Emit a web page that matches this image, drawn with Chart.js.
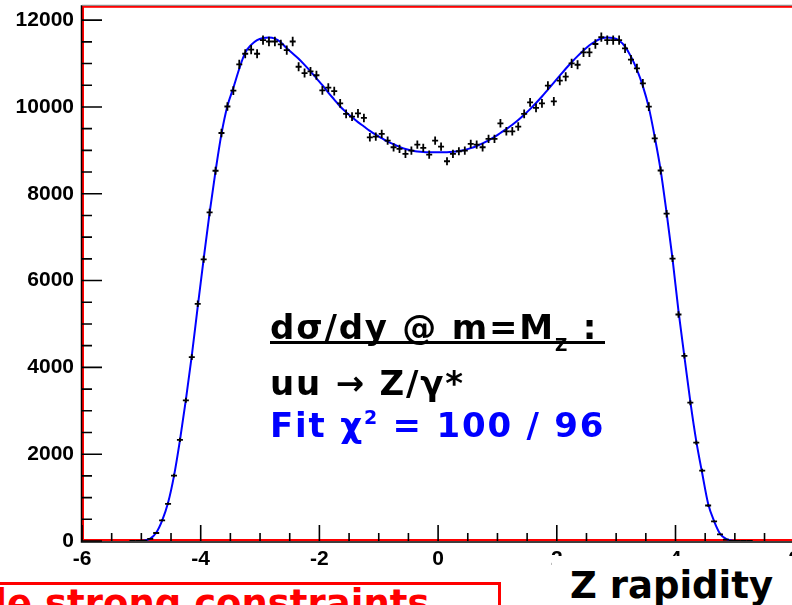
<!DOCTYPE html>
<html><head><meta charset="utf-8">
<script src="https://cdn.jsdelivr.net/npm/chart.js@4"></script>
<style>
html,body{margin:0;padding:0;background:#fff;overflow:hidden;width:792px;height:605px}
#wrap{position:absolute;left:0;top:0;width:800px;height:605px}
.t{position:absolute;white-space:nowrap;font-family:'DejaVu Sans';font-weight:bold;line-height:1}
</style></head><body>
<div id="wrap"><canvas id="c" width="800" height="605"></canvas></div>
<div class="t" style="left:270px;top:310px;font-size:34px;color:#000;letter-spacing:1.8px">dσ/dy @ m=M<span style="font-size:17px;position:relative;top:12px">Z</span> :</div>
<div style="position:absolute;left:270px;top:341px;width:335px;height:3px;background:#000"></div>
<div class="t" style="left:270px;top:366px;font-size:34px;color:#000;letter-spacing:1.8px">uu → Z/γ*</div>
<div class="t" style="left:270px;top:408px;font-size:34px;color:#0000ff;letter-spacing:1.8px">Fit χ<span style="font-size:19px;position:relative;top:-13px">2</span> = 100 / 96</div>
<div style="position:absolute;left:552px;top:556px;width:260px;height:60px;background:#fff"></div>
<div class="t" style="left:570px;top:567px;font-size:37px;color:#000">Z rapidity</div>
<div style="position:absolute;left:-20px;top:582px;width:515px;height:60px;border:3px solid #ff0000;background:#fff"></div>
<div class="t" style="left:-127px;top:585px;font-size:37px;color:#ff0000">Provide strong constraints</div>
<script>
// ---- data ----
const binWidth = 0.1;
const binCenters = [-5.15,-5.05,-4.95,-4.85,-4.75,-4.65,-4.55,-4.45,-4.35,-4.25,-4.15,-4.05,-3.95,-3.85,-3.75,-3.65,-3.55,-3.45,-3.35,-3.25,-3.15,-3.05,-2.95,-2.85,-2.75,-2.65,-2.55,-2.45,-2.35,-2.25,-2.15,-2.05,-1.95,-1.85,-1.75,-1.65,-1.55,-1.45,-1.35,-1.25,-1.15,-1.05,-0.95,-0.85,-0.75,-0.65,-0.55,-0.45,-0.35,-0.25,-0.15,-0.05,0.05,0.15,0.25,0.35,0.45,0.55,0.65,0.75,0.85,0.95,1.05,1.15,1.25,1.35,1.45,1.55,1.65,1.75,1.85,1.95,2.05,2.15,2.25,2.35,2.45,2.55,2.65,2.75,2.85,2.95,3.05,3.15,3.25,3.35,3.45,3.55,3.65,3.75,3.85,3.95,4.05,4.15,4.25,4.35,4.45,4.55,4.65,4.75,4.85,4.95,5.05,5.15,5.25];
const counts = [0,0,8,50,184,474,857,1508,2328,3241,4237,5464,6490,7570,8530,9400,10010,10375,10980,11225,11320,11225,11540,11508,11508,11440,11310,11508,10926,10780,10818,10730,10380,10445,10365,10083,9839,9777,9853,9747,9301,9317,9379,9225,9071,9034,8920,8995,9133,9057,8903,9225,9087,8749,8920,8979,8995,9149,9133,9071,9264,9264,9623,9439,9439,9547,9839,10106,9977,10083,10490,10129,10605,10697,11003,10972,11255,11255,11450,11610,11540,11540,11540,11350,11090,10890,10543,10007,9275,8536,7540,6506,5218,4267,3186,2267,1623,818,451,152,30,5,0,0,0];
const fitX = [-5.0,-4.95,-4.85,-4.75,-4.65,-4.55,-4.45,-4.35,-4.25,-4.15,-4.05,-3.95,-3.85,-3.75,-3.65,-3.55,-3.45,-3.35,-3.25,-3.15,-3.05,-2.95,-2.85,-2.75,-2.65,-2.55,-2.45,-2.35,-2.25,-2.15,-2.05,-1.95,-1.85,-1.75,-1.65,-1.55,-1.45,-1.35,-1.25,-1.15,-1.05,-0.95,-0.85,-0.75,-0.65,-0.55,-0.45,-0.35,-0.25,-0.15,-0.05,0.05,0.15,0.25,0.35,0.45,0.55,0.65,0.75,0.85,0.95,1.05,1.15,1.25,1.35,1.45,1.55,1.65,1.75,1.85,1.95,2.05,2.15,2.25,2.35,2.45,2.55,2.65,2.75,2.85,2.95,3.05,3.15,3.25,3.35,3.45,3.55,3.65,3.75,3.85,3.95,4.05,4.15,4.25,4.35,4.45,4.55,4.65,4.75,4.85,4.95,5.0];
const fitY = [0,10,55,190,470,880,1500,2320,3250,4270,5400,6500,7560,8520,9380,10020,10440,10880,11250,11430,11540,11590,11600,11575,11490,11350,11230,11110,10970,10820,10660,10500,10330,10170,10010,9880,9760,9650,9550,9450,9360,9280,9200,9140,9080,9030,8995,8975,8962,8956,8955,8955,8958,8968,8985,9010,9050,9100,9160,9230,9310,9400,9490,9590,9700,9820,9950,10090,10240,10400,10560,10720,10880,11030,11170,11300,11420,11510,11575,11600,11590,11530,11390,11160,10860,10480,9990,9310,8540,7560,6500,5300,4250,3210,2300,1560,860,460,170,50,10,0];
const xTickVals = [-6,-4,-2,0,2,4,6];
const yTickVals = [0,2000,4000,6000,8000,10000,12000];
const xMinorStep = 0.5, yMinorStep = 500;

const frameAndTicks = {
  id:'frameAndTicks',
  beforeDatasetsDraw(chart){
    const {ctx, chartArea:a} = chart;
    ctx.save();
    ctx.strokeStyle='#ff0000'; ctx.lineWidth=2;
    ctx.strokeRect(a.left+1, a.top+1, a.right-a.left-2, a.bottom-a.top-2);
    ctx.strokeStyle='#000'; ctx.lineWidth=1.5;
    ctx.beginPath();
    ctx.moveTo(a.left-0.5, a.top-0.5); ctx.lineTo(a.left-0.5, a.bottom+1);
    ctx.lineTo(a.right, a.bottom+1);
    ctx.stroke();
    ctx.strokeStyle='#777'; ctx.lineWidth=1;
    ctx.beginPath(); ctx.moveTo(a.left, a.top-0.5); ctx.lineTo(a.right, a.top-0.5); ctx.stroke();
    ctx.restore();
  },
  afterDraw(chart){
    const {ctx, chartArea:a, scales:{x,y}} = chart;
    ctx.save(); ctx.strokeStyle='#000'; ctx.lineWidth=1.6;
    ctx.beginPath();
    for(let v=y.min; v<=y.max; v+=yMinorStep){
      const p=y.getPixelForValue(v); const len = yTickVals.includes(v)?20:10;
      ctx.moveTo(a.left, p); ctx.lineTo(a.left+len, p);
    }
    for(let v=x.min; v<=x.max+1e-9; v+=xMinorStep){
      const p=x.getPixelForValue(v); const len = xTickVals.includes(Math.round(v*10)/10)?16:8;
      ctx.moveTo(p, a.bottom); ctx.lineTo(p, a.bottom-len);
    }
    ctx.stroke(); ctx.restore();
  },
  afterDatasetsDraw(chart){
    const {ctx, chartArea:a, scales:{x,y}} = chart;
    ctx.save(); ctx.beginPath(); ctx.rect(a.left,a.top,a.right-a.left,a.bottom-a.top); ctx.clip();
    ctx.strokeStyle='#000'; ctx.lineWidth=1.8; ctx.beginPath();
    binCenters.forEach((bc,i)=>{
      const v=counts[i], e=Math.sqrt(v);
      const px=x.getPixelForValue(bc);
      ctx.moveTo(px, y.getPixelForValue(v+e)); ctx.lineTo(px, y.getPixelForValue(Math.max(0,v-e)));
    });
    ctx.stroke(); ctx.restore();
  }
};

const tickFont = {family:'Liberation Sans', weight:'bold', size:21};
const noPad = s=>{s.paddingTop=0;s.paddingBottom=0;s.paddingLeft=0;s.paddingRight=0;};
new Chart(document.getElementById('c'), {
  data:{
    datasets:[
      {type:'scatter', label:'data', data:binCenters.map((b,i)=>({x:b,y:counts[i]})),
       pointStyle:'line', pointRadius:3, pointBorderWidth:1.8, borderColor:'#000', backgroundColor:'#000', order:1},
      {type:'line', label:'fit', data:fitX.map((b,i)=>({x:b,y:fitY[i]})),
       borderColor:'#0000ff', borderWidth:2, pointRadius:0, cubicInterpolationMode:'monotone', fill:false, order:2}
    ]
  },
  options:{
    responsive:false, animation:false, devicePixelRatio:1,
    layout:{padding:{top:5,right:5,left:0,bottom:0}},
    plugins:{legend:{display:false}, tooltip:{enabled:false}},
    scales:{
      x:{type:'linear', min:-6, max:6, grid:{display:false, drawTicks:false}, border:{display:false},
         afterBuildTicks:s=>{s.ticks=xTickVals.map(v=>({value:v}));},
         afterFit:s=>{s.height=64; noPad(s);},
         ticks:{font:tickFont, color:'#000', padding:6, maxRotation:0, autoSkip:false, callback:v=>String(v)}},
      y:{type:'linear', min:0, max:12330, grid:{display:false, drawTicks:false}, border:{display:false},
         afterBuildTicks:s=>{s.ticks=yTickVals.map(v=>({value:v}));},
         afterFit:s=>{s.width=82; noPad(s);},
         ticks:{font:tickFont, color:'#000', padding:8, autoSkip:false, callback:v=>String(v)}}
    }
  },
  plugins:[frameAndTicks]
});
</script>
</body></html>
